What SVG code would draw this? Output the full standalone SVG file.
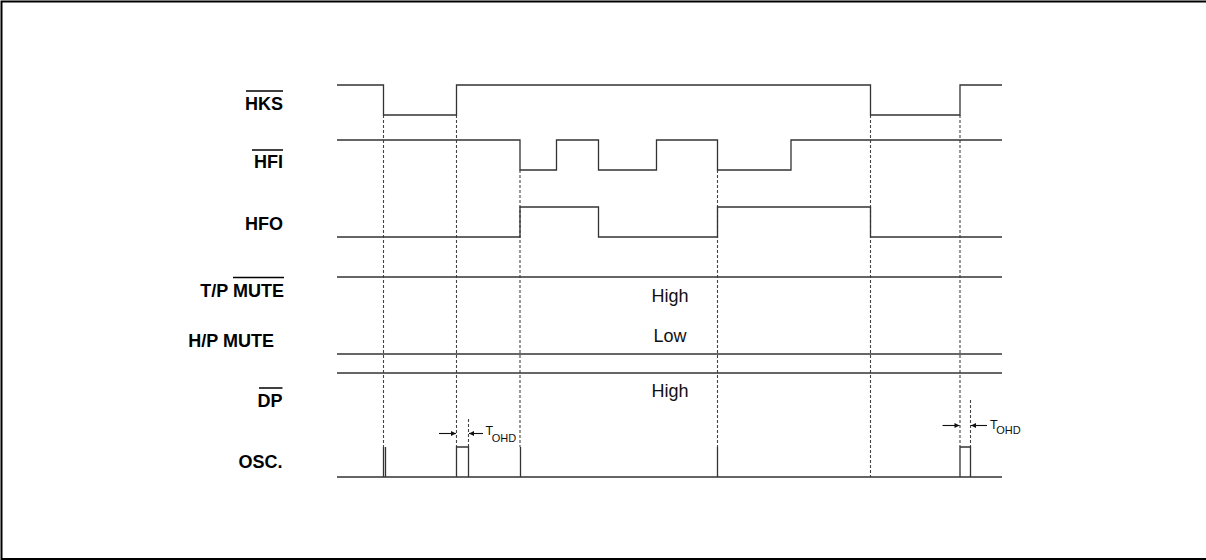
<svg xmlns="http://www.w3.org/2000/svg" width="1206" height="560" viewBox="0 0 1206 560">
<defs>
<style>
.lbl{font-family:"Liberation Sans",Arial,sans-serif;font-weight:bold;font-size:18px;fill:#000;text-anchor:end}
.val{font-family:"Liberation Sans",Arial,sans-serif;font-size:18px;fill:#111;text-anchor:middle}
.t{font-family:"Liberation Sans",Arial,sans-serif;fill:#111}
.wave{fill:none;stroke:#333;stroke-width:1.3}
.ov{stroke:#000;stroke-width:1.5}
.dash{fill:none;stroke:#444;stroke-width:1.1;stroke-dasharray:3 2}
.arr{stroke:#111;stroke-width:1.1}
</style>
<marker id="ah" viewBox="0 0 10 10" refX="10" refY="5" markerWidth="7" markerHeight="5" orient="auto" markerUnits="userSpaceOnUse">
<path d="M0,0 L10,5 L0,10 z" fill="#111"/>
</marker>
</defs>
<rect x="1.5" y="1.5" width="1210" height="557.5" fill="#fff" stroke="#000" stroke-width="2"/>

<g id="label-hks"><text class="lbl" x="283" y="110">HKS</text><line class="ov" x1="246" y1="91" x2="283" y2="91"/></g>
<g id="label-hfi"><text class="lbl" x="283" y="168">HFI</text><line class="ov" x1="252" y1="150" x2="283" y2="150"/></g>
<g id="label-hfo"><text class="lbl" x="283" y="230">HFO</text></g>
<g id="label-tpmute"><text class="lbl" x="284" y="296.5">T/P MUTE</text><line class="ov" x1="233" y1="277.5" x2="284" y2="277.5"/></g>
<g id="label-hpmute"><text class="lbl" x="274" y="347">H/P MUTE</text></g>
<g id="label-dp"><text class="lbl" x="282.5" y="406.5">DP</text><line class="ov" x1="259" y1="388" x2="282.5" y2="388"/></g>
<g id="label-osc"><text class="lbl" x="282.5" y="468">OSC.</text></g>

<g id="connectors">
<path class="dash" d="M383.5,115 V447 M456.5,115 V447 M520,170 V447 M717.5,170 V447 M870.5,115 V477 M960,115 V447 M468.5,419 V447 M970.5,400 V447"/>
</g>

<g id="wave-hks"><path class="wave" d="M337,85 H383.5 V115 H456.5 V85 H870.5 V115 H960 V85 H1002"/></g>
<g id="wave-hfi"><path class="wave" d="M337,140 H520 V170 H556.5 V140 H598.5 V170 H656.5 V140 H717.5 V170 H791 V140 H1002"/></g>
<g id="wave-hfo"><path class="wave" d="M337,237 H520 V207 H598.5 V237 H717.5 V207 H870.5 V237 H1002"/></g>
<g id="wave-tpmute"><path class="wave" d="M337,277 H1002"/><text class="val" x="670" y="302">High</text></g>
<g id="wave-hpmute"><path class="wave" d="M337,354 H1002"/><text class="val" x="670" y="342">Low</text></g>
<g id="wave-dp"><path class="wave" d="M337,373 H1002"/><text class="val" x="670" y="397">High</text></g>
<g id="wave-osc">
<path class="wave" d="M337,477 H1002 M383.5,477 V447 M385.5,447 V477 M456.5,477 V447 H468.5 V477 M960,477 V447 H970.5 V477"/>
<path class="wave" stroke-width="2" d="M520.5,477 V447 M717.5,477 V447"/>
</g>
<g id="tohd-1">
<line class="arr" x1="439" y1="433.5" x2="456" y2="433.5" marker-end="url(#ah)"/>
<line class="arr" x1="483" y1="433.5" x2="469" y2="433.5" marker-end="url(#ah)"/>
<text class="t" x="485.5" y="435" font-size="12.5">T<tspan font-size="11" dy="6.5" dx="-1.5">OHD</tspan></text>
</g>
<g id="tohd-2">
<line class="arr" x1="942.5" y1="425.5" x2="959.5" y2="425.5" marker-end="url(#ah)"/>
<line class="arr" x1="987" y1="425.5" x2="971" y2="425.5" marker-end="url(#ah)"/>
<text class="t" x="990" y="429" font-size="12.5">T<tspan font-size="11" dy="5" dx="-1.5">OHD</tspan></text>
</g>
</svg>
